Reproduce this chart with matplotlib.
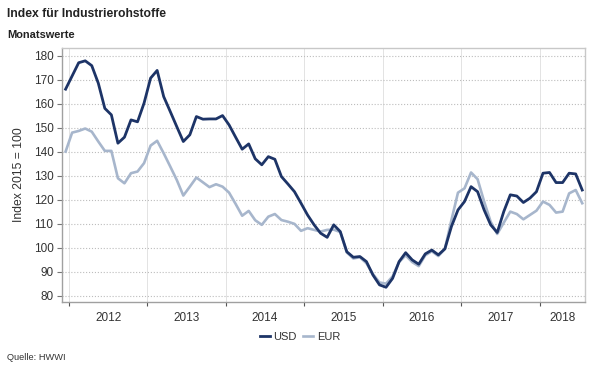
import numpy as np
import pandas as pd
import matplotlib
matplotlib.use('Agg')
import matplotlib.pyplot as plt
from matplotlib.ticker import FixedLocator, NullFormatter

plt.rcParams['font.family'] = ['Liberation Sans', 'DejaVu Sans']

# monthly values, Dec 2011 .. Jul 2018
start_month = '2011-12'
usd = [166, 171.5, 177, 177.8, 175.8, 168.5, 158, 155.3, 143.5, 146, 153.2, 152.4,
       160.2, 170.6, 173.8, 162.9, 156.7, 150.4, 144.2, 147, 154.6, 153.5, 153.6, 153.6,
       155, 151.1, 146, 141, 143.2, 137, 134.5, 137.9, 136.8, 129.6, 126.5, 123.3,
       118.5, 113.6, 109.5, 106, 104.3, 109.5, 106.7, 98.3, 96, 96.3, 94.2, 88.6,
       84.5, 83.5, 87.2, 94.2, 97.9, 94.9, 93.1, 97.4, 99, 97, 99.5, 108.8,
       115.7, 119.2, 125.4, 123.3, 115.7, 109.5, 106.3, 115, 122, 121.5, 118.8, 120.6,
       123.3, 131, 131.3, 127.1, 127.1, 131, 130.7, 124]
eur = [140, 147.9, 148.6, 149.6, 148.3, 144.2, 140.3, 140.3, 128.9, 126.8, 131, 131.7,
       135.2, 142.5, 144.5, 139.3, 133.8, 128.2, 121.7, 125.4, 129.2, 127.2, 125.2, 126.4,
       125.4, 122.9, 118.2, 113.3, 115.3, 111.4, 109.5, 112.9, 114, 111.5, 110.8, 109.9,
       107, 108.1, 107.4, 106.7, 107.4, 107.5, 106.5, 98, 95.5, 96, 93.5, 89,
       85.5, 85, 88, 94, 96.8, 94, 92.3, 96.8, 98.5, 96.5, 99.5, 111.5,
       122.9, 124.7, 131.3, 128.5, 119.2, 110.8, 105.7, 110.4, 115, 114, 111.8, 113.6,
       115.4, 119.2, 117.8, 114.6, 115, 122.6, 124, 118.5]
years = [2012, 2013, 2014, 2015, 2016, 2017, 2018]
yticks = [80, 90, 100, 110, 120, 130, 140, 150, 160, 170, 180]

dates = pd.date_range(start_month, periods=len(usd), freq='MS')
x = dates.year + (dates.month - 0.5) / 12.0

c_usd = '#1d3467'
c_eur = '#a7b6cc'
grey = '#333333'

fig = plt.figure(figsize=(6, 3.7), dpi=100)
ax = fig.add_axes([0.103, 0.184, 0.872, 0.686])

ax.plot(x, eur, color=c_eur, lw=1.9, label='EUR', solid_joinstyle='round')
ax.plot(x, usd, color=c_usd, lw=2.0, label='USD', solid_joinstyle='round')

ax.set_xlim(2011.91, 2018.577)
ax.set_ylim(77.4, 183.1)

# year boundaries as ticks, labels in the middle of each year
bounds = years + [years[-1] + 1]
ax.xaxis.set_major_locator(FixedLocator(bounds))
ax.xaxis.set_major_formatter(NullFormatter())
ax.xaxis.set_minor_locator(FixedLocator([y + 0.5 for y in years[:-1]] + [2018.29]))
ax.set_xticklabels([str(y) for y in years], minor=True)
ax.tick_params(axis='x', which='major', length=3, width=0.8, color='#555555', direction='out')
ax.tick_params(axis='x', which='minor', length=0, pad=7, labelsize=8.5, labelcolor=grey)

ax.set_yticks(yticks)
ax.tick_params(axis='y', length=3.5, width=0.8, color='#777777', pad=2.5, labelsize=8.5, labelcolor=grey)

ax.grid(axis='y', which='major', linestyle=':', color='#bdbdbd', lw=0.8)
ax.grid(axis='x', which='major', linestyle='-', color='#e3e3e3', lw=0.7)

for s in ['left', 'bottom']:
    ax.spines[s].set_color('#a0a0a0')
    ax.spines[s].set_linewidth(1.0)
for s in ['top', 'right']:
    ax.spines[s].set_color('#c8c8c8')
    ax.spines[s].set_linewidth(1.0)

ax.set_ylabel('Index 2015 = 100', fontsize=8.7, color=grey, labelpad=6)

fig.text(0.012, 0.961, 'Index für Industrierohstoffe', fontsize=8.7, fontweight='bold',
         color='#222222', va='center', ha='left')
fig.text(0.012, 0.905, 'Monatswerte', fontsize=7.9, fontweight='bold',
         color='#222222', va='center', ha='left')
fig.text(0.012, 0.035, 'Quelle: HWWI', fontsize=6.7, color=grey, va='center', ha='left')

h, l = ax.get_legend_handles_labels()
fig.legend(h[::-1], l[::-1], loc='center', bbox_to_anchor=(0.5, 0.089), ncol=2,
           frameon=False, fontsize=8, handlelength=0.9, handletextpad=0.3,
           columnspacing=0.6, labelcolor=grey)

fig.savefig('out.png', dpi=100)
